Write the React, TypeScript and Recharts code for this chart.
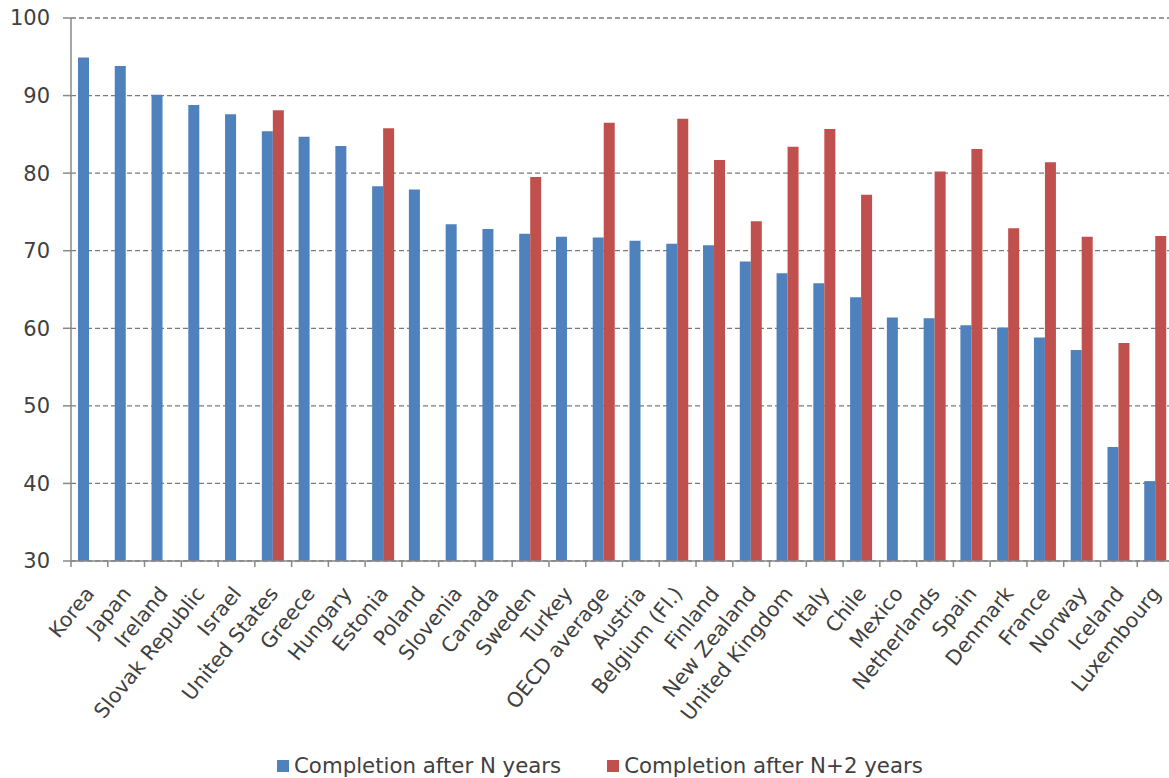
import React from "react";
import {
  BarChart,
  Bar,
  XAxis,
  YAxis,
  CartesianGrid,
  Legend,
} from "recharts";

const countries = [
  "Korea", "Japan", "Ireland", "Slovak Republic", "Israel", "United States",
  "Greece", "Hungary", "Estonia", "Poland", "Slovenia", "Canada", "Sweden",
  "Turkey", "OECD average", "Austria", "Belgium (Fl.)", "Finland", "New Zealand",
  "United Kingdom", "Italy", "Chile", "Mexico", "Netherlands", "Spain",
  "Denmark", "France", "Norway", "Iceland", "Luxembourg",
];

const afterN = [
  94.9, 93.8, 90.1, 88.8, 87.6, 85.4, 84.7, 83.5, 78.3, 77.9, 73.4, 72.8, 72.2,
  71.8, 71.7, 71.3, 70.9, 70.7, 68.6, 67.1, 65.8, 64.0, 61.4, 61.3, 60.4, 60.1,
  58.8, 57.2, 44.7, 40.3,
];

const afterN2 = [
  null, null, null, null, null, 88.1, null, null, 85.8, null, null, null, 79.5,
  null, 86.5, null, 87.0, 81.7, 73.8, 83.4, 85.7, 77.2, null, 80.2, 83.1, 72.9,
  81.4, 71.8, 58.1, 71.9,
];

const yTicks = [30, 40, 50, 60, 70, 80, 90, 100];

const BLUE = "#4f81bd";
const RED = "#c0504d";
const TEXT = "#404040";
const AXIS = "#898989";
const FONT = "'DejaVu Sans', Verdana, sans-serif";

const W = 1169;
const H = 778;
const margin = { top: 18, right: -5, left: 0, bottom: 0 };
const Y_AXIS_W = 71;
const LEGEND_H = 28;
const STEP = (W - margin.left - margin.right - Y_AXIS_W) / countries.length;

const data = countries.map((name, i) => ({
  name,
  n: afterN[i],
  n2: afterN2[i],
}));

// rotated category label, with tick marks on the category boundaries
function CategoryTick(props: any) {
  const { x, y, payload, index } = props;
  const last = index === countries.length - 1;
  const tx = x + 6;
  const ty = y + 33;
  return (
    <g>
      <line x1={x - STEP / 2} x2={x - STEP / 2} y1={y} y2={y + 6} stroke={AXIS} strokeWidth={1.5} />
      {last && (
        <line x1={x + STEP / 2} x2={x + STEP / 2} y1={y} y2={y + 6} stroke={AXIS} strokeWidth={1.5} />
      )}
      <text
        x={tx}
        y={ty}
        transform={`rotate(-51 ${tx} ${ty})`}
        textAnchor="end"
        fill={TEXT}
        fontSize={20.5}
        fontFamily={FONT}
      >
        {payload.value}
      </text>
    </g>
  );
}

function LegendContent() {
  const items = [
    { label: "Completion after N years", color: BLUE },
    { label: "Completion after N+2 years", color: RED },
  ];
  return (
    <div
      style={{
        display: "flex",
        alignItems: "center",
        gap: 46,
        height: LEGEND_H,
        paddingLeft: 277,
        paddingTop: 3,
        boxSizing: "border-box",
        fontFamily: FONT,
        fontSize: 21.3,
        color: TEXT,
        whiteSpace: "nowrap",
      }}
    >
      {items.map((it) => (
        <div key={it.label} style={{ display: "flex", alignItems: "center" }}>
          <span
            style={{
              display: "inline-block",
              width: 12,
              height: 12,
              background: it.color,
              marginRight: 5,
            }}
          />
          {it.label}
        </div>
      ))}
    </div>
  );
}

export default function App() {
  return (
    <div style={{ position: "absolute", left: 0, top: 0, background: "#fff" }}>
      <BarChart
        width={W}
        height={H}
        data={data}
        margin={margin}
        barGap={0}
        barSize={11}
      >
        <CartesianGrid
          vertical={false}
          stroke="#7a7a7a"
          strokeWidth={1.3}
          strokeDasharray="5 3"
        />
        <XAxis
          dataKey="name"
          interval={0}
          height={H - 561 - LEGEND_H}
          tickLine={false}
          tickSize={0}
          tickMargin={0}
          axisLine={{ stroke: AXIS, strokeWidth: 1.5 }}
          tick={<CategoryTick />}
        />
        <YAxis
          width={Y_AXIS_W}
          domain={[30, 100]}
          ticks={yTicks}
          allowDataOverflow
          axisLine={{ stroke: AXIS, strokeWidth: 1.5 }}
          tickLine={{ stroke: AXIS, strokeWidth: 1.5 }}
          tickSize={8}
          tickMargin={13}
          tick={{ fill: TEXT, fontSize: 21, fontFamily: FONT }}
        />
        <Legend
          verticalAlign="bottom"
          wrapperStyle={{ left: 0, width: W, height: LEGEND_H }}
          content={<LegendContent />}
        />
        <Bar
          dataKey="n"
          name="Completion after N years"
          fill={BLUE}
          isAnimationActive={false}
        />
        <Bar
          dataKey="n2"
          name="Completion after N+2 years"
          fill={RED}
          isAnimationActive={false}
        />
      </BarChart>
    </div>
  );
}
